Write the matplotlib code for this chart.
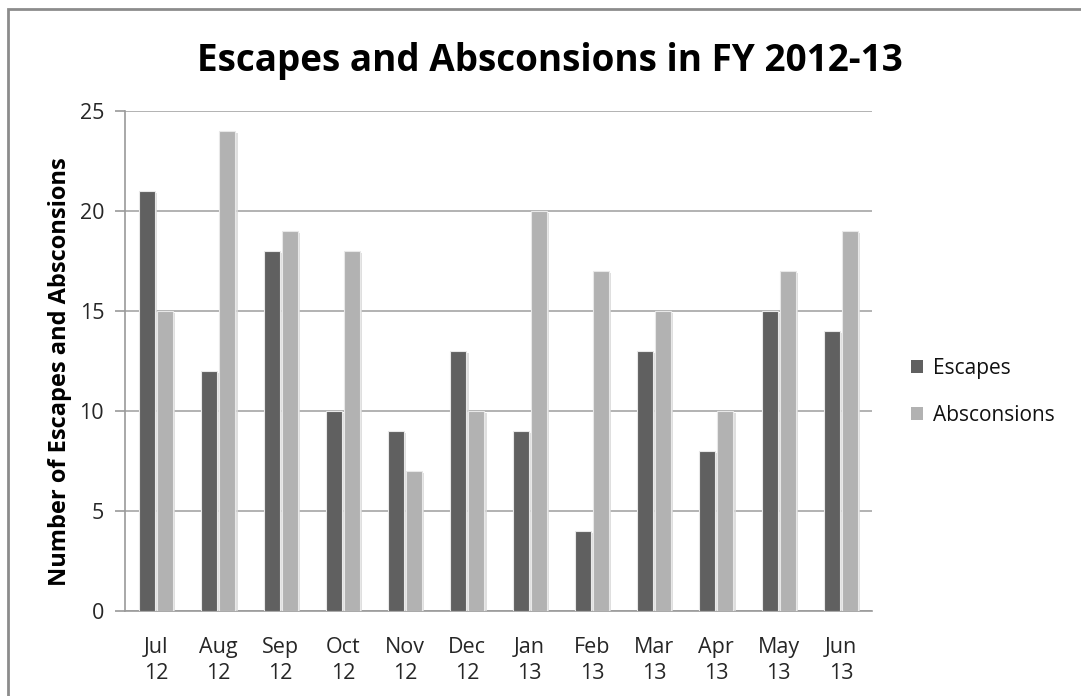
import matplotlib
matplotlib.use("Agg")
import matplotlib.pyplot as plt
import matplotlib.patheffects as pe
import numpy as np

months = ["Jul\n12", "Aug\n12", "Sep\n12", "Oct\n12", "Nov\n12", "Dec\n12",
          "Jan\n13", "Feb\n13", "Mar\n13", "Apr\n13", "May\n13", "Jun\n13"]
escapes = [21, 12, 18, 10, 9, 13, 9, 4, 13, 8, 15, 14]
absconsions = [15, 24, 19, 18, 7, 10, 20, 17, 15, 10, 17, 19]
y_ticks = [0, 5, 10, 15, 20, 25]

plt.rcParams["font.family"] = ["Open Sans", "DejaVu Sans"]

fig = plt.figure(figsize=(10.81, 6.96), dpi=100)
fig.patch.set_facecolor("white")

# chart frame
frame = plt.Rectangle((8 / 1081, -0.05), 1.2, 1 - 9 / 696 + 0.05, transform=fig.transFigure,
                      fill=False, edgecolor="#8c8c8c", linewidth=2.0, zorder=0)
fig.add_artist(frame)

ax = fig.add_axes([125 / 1081, 1 - 611 / 696, (872 - 125) / 1081, (611 - 111) / 696])

x = np.arange(len(months))
w = 0.26
shadow = [pe.SimplePatchShadow(offset=(1.5, -1.5), shadow_rgbFace="#d8d8d8", alpha=0.8), pe.Normal()]
b1 = ax.bar(x - w / 2 - 0.015, escapes, w, color="#606060", edgecolor="#e8e8e8",
            linewidth=0.8, label="Escapes", zorder=3)
b2 = ax.bar(x + w / 2 + 0.015, absconsions, w, color="#b2b2b2", edgecolor="#e8e8e8",
            linewidth=0.8, label="Absconsions", zorder=3)
for bars in (b1, b2):
    for p in bars:
        p.set_path_effects(shadow)

ax.set_xlim(-0.5, len(months) - 0.5)
ax.set_ylim(0, 25)
ax.set_yticks(y_ticks)
ax.set_xticks(x)
ax.set_xticklabels(months, fontsize=15.5, color="#262626", linespacing=1.3)
ax.tick_params(axis="y", labelsize=15.5, colors="#262626", length=7, width=1.2, color="#9a9a9a", pad=8)
ax.tick_params(axis="x", length=0, pad=19)
ax.grid(axis="y", color="#a6a6a6", linewidth=1.2, zorder=0)
ax.set_axisbelow(True)
for s in ("top", "right"):
    ax.spines[s].set_visible(False)
ax.spines["left"].set_color("#9a9a9a")
ax.spines["left"].set_linewidth(1.2)
ax.spines["bottom"].set_color("#9a9a9a")
ax.spines["bottom"].set_linewidth(1.2)

ax.set_ylabel("Number of Escapes and Absconsions", fontsize=17, fontweight="bold",
              color="black")
ax.yaxis.set_label_coords(-0.071, 0.478)

fig.text(550 / 1081, 1 - 61 / 696, "Escapes and Absconsions in FY 2012-13",
         fontsize=26.6, fontweight="bold", ha="center", va="center", color="black")

leg = fig.legend(handles=[b1, b2], loc="center left", bbox_to_anchor=(892 / 1081, 1 - 392 / 696),
                 frameon=False, fontsize=15, handlelength=0.6, handleheight=0.6,
                 handletextpad=0.45, labelspacing=1.25)
for t in leg.get_texts():
    t.set_color("#111111")
for h in leg.legend_handles:
    h.set_path_effects([])
    h.set_edgecolor("none")

fig.savefig("out.png", dpi=100)
